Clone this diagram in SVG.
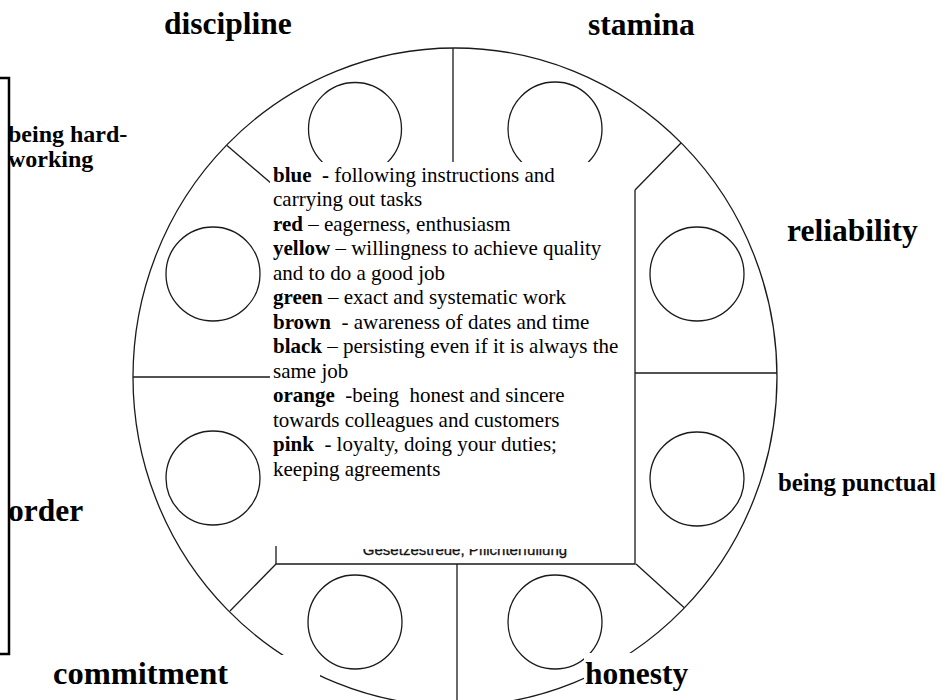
<svg xmlns="http://www.w3.org/2000/svg" width="948" height="700" viewBox="0 0 948 700">
<style>
.ln{fill:none;stroke:#1a1a1a;stroke-width:1.3}
.br{fill:none;stroke:#000;stroke-width:2.5}
.wh{fill:#fff;stroke:none}
.big{font-family:"Liberation Serif","Times New Roman",serif;font-weight:bold;font-size:31.5px;fill:#000}
.mid{font-family:"Liberation Serif","Times New Roman",serif;font-weight:bold;font-size:24px;fill:#000}
.leg{font-family:"Liberation Serif","Times New Roman",serif;font-size:21px;fill:#000;white-space:pre}
.b{font-weight:bold}
.ger{font-family:"Liberation Sans",Arial,sans-serif;font-size:15px;fill:#111;stroke:#111;stroke-width:0.3}
</style>
<rect width="948" height="700" fill="#fff"/>
<g id="wheel">
  <ellipse class="ln" cx="455" cy="377" rx="322" ry="329"/>
  <line class="ln" x1="453" y1="48" x2="453" y2="165"/>
  <line class="ln" x1="227" y1="145.5" x2="272" y2="184"/>
  <line class="ln" x1="681" y1="143" x2="635" y2="190"/>
  <line class="ln" x1="133" y1="377" x2="270" y2="377"/>
  <line class="ln" x1="635" y1="373" x2="777" y2="373"/>
  <line class="ln" x1="276" y1="564" x2="230" y2="611"/>
  <line class="ln" x1="636" y1="564" x2="684" y2="607.5"/>
  <line class="ln" x1="457" y1="564" x2="457" y2="700"/>
  <circle class="ln" cx="355" cy="129" r="46.5"/>
  <circle class="ln" cx="555" cy="129" r="47"/>
  <circle class="ln" cx="213" cy="274" r="47"/>
  <circle class="ln" cx="697" cy="274" r="47"/>
  <circle class="ln" cx="213" cy="478" r="47"/>
  <circle class="ln" cx="697" cy="479" r="47"/>
  <circle class="ln" cx="355" cy="622" r="47"/>
  <circle class="ln" cx="555" cy="622" r="47"/>
</g>
<rect class="wh" x="30" y="655" width="290" height="45"/>
<rect class="wh" x="584" y="653" width="115" height="47"/>
<g id="pasted-box">
  <text class="ger" x="465" y="555" text-anchor="middle">Gesetzestreue, Pflichterfüllung</text>
  <rect class="wh" x="270" y="162" width="364" height="387"/>
  <path class="ln" d="M635,190 V564 H276 V546"/>
</g>
<g id="legend">
  <text class="leg" x="273" y="181.5"><tspan class="b">blue  -</tspan> following instructions and</text>
  <text class="leg" x="273" y="206">carrying out tasks</text>
  <text class="leg" x="273" y="230.5"><tspan class="b">red</tspan> – eagerness, enthusiasm</text>
  <text class="leg" x="273" y="255"><tspan class="b">yellow</tspan> – willingness to achieve quality</text>
  <text class="leg" x="273" y="279.5">and to do a good job</text>
  <text class="leg" x="273" y="304"><tspan class="b">green</tspan> – exact and systematic work</text>
  <text class="leg" x="273" y="328.5"><tspan class="b">brown</tspan>  - awareness of dates and time</text>
  <text class="leg" x="273" y="353"><tspan class="b">black</tspan> – persisting even if it is always the</text>
  <text class="leg" x="273" y="377.5">same job</text>
  <text class="leg" x="273" y="402"><tspan class="b">orange</tspan>  -being  honest and sincere</text>
  <text class="leg" x="273" y="426.5">towards colleagues and customers</text>
  <text class="leg" x="273" y="451"><tspan class="b">pink</tspan>  - loyalty, doing your duties;</text>
  <text class="leg" x="273" y="475.5">keeping agreements</text>
</g>
<g id="bracket">
  <path class="br" d="M0,78 H9 V654 H0"/>
</g>
<g id="label-discipline"><text class="big" x="164" y="34">discipline</text></g>
<g id="label-stamina"><text class="big" x="588" y="35">stamina</text></g>
<g id="label-reliability"><text class="big" x="787" y="241">reliability</text></g>
<g id="label-being-punctual"><text class="mid" x="778" y="491" style="font-size:24.8px">being punctual</text></g>
<g id="label-honesty"><text class="big" x="585" y="684">honesty</text></g>
<g id="label-commitment"><text class="big" x="53" y="684" style="font-size:32.5px">commitment</text></g>
<g id="label-order"><text class="big" x="8" y="521">order</text></g>
<g id="label-being-hard-working"><text class="mid" x="8" y="142">being hard-</text><text class="mid" x="8" y="167">working</text></g>
</svg>
